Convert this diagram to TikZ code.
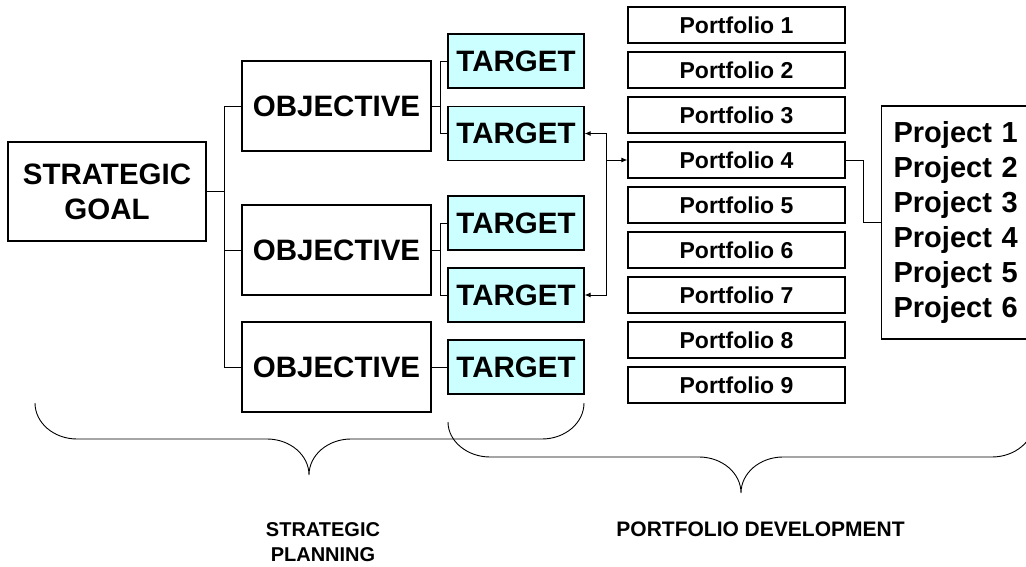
\documentclass[tikz,border=0pt]{standalone}
\usepackage{fontspec}
\setmainfont{Liberation Sans}
\usetikzlibrary{arrows.meta}
\definecolor{tcyan}{HTML}{CCFFFF}
\begin{document}
\begin{tikzpicture}[x=1pt,y=-1pt,
 box/.style={draw, line width=1.2pt, inner sep=0pt, font=\fontsize{29.5}{35}\selectfont\bfseries, align=center},
 goalbox/.style={box, minimum width=198pt, minimum height=99pt},
 objbox/.style={box, minimum width=189pt, minimum height=90pt},
 tgtbox/.style={box, fill=tcyan, minimum width=136pt, minimum height=54pt},
 pfbox/.style={draw, line width=1.2pt, inner sep=0pt, minimum width=217pt, minimum height=36pt, font=\fontsize{23}{28}\selectfont\bfseries},
 conn/.style={line width=0.9pt},
 arr/.style={conn, -{Latex[length=6pt,width=5pt]}},
 brace/.style={line width=0.9pt},
 lbl/.style={inner sep=0pt, align=center}]
\useasboundingbox (0,0) rectangle (1026,567);
\clip (0,0) rectangle (1026,567);
\fill[white] (0,0) rectangle (1026,567);

% nodes
\node[goalbox] (goal) at (107,191.5) {STRATEGIC\\GOAL};
\node[objbox] (o1) at (336.5,106) {OBJECTIVE};
\node[objbox] (o2) at (336.5,250) {OBJECTIVE};
\node[objbox] (o3) at (336.5,367) {OBJECTIVE};
\node[tgtbox] (t1) at (516,61) {TARGET};
\node[tgtbox] (t2) at (516,133.5) {TARGET};
\node[tgtbox] (t3) at (516,223) {TARGET};
\node[tgtbox] (t4) at (516,295) {TARGET};
\node[tgtbox] (t5) at (516,367) {TARGET};
\foreach \i in {1,...,9} {
  \node[pfbox] (p\i) at (736.5,{25+45*(\i-1)}) {Portfolio \i};
}
\node[draw, line width=1.2pt, anchor=west, inner xsep=12pt, inner ysep=0pt,
      text width=135pt, minimum height=233pt, align=left,
      font=\fontsize{29}{35}\selectfont\bfseries] (proj) at (881,222.5)
      {Project 1\\Project 2\\Project 3\\Project 4\\Project 5\\Project 6};

% connectors
\draw[conn] (goal.east) -- +(18,0) coordinate (gj);
\draw[conn] (gj) |- (o1.west);
\draw[conn] (gj) |- (o2.west);
\draw[conn] (gj) |- (o3.west);
\draw[conn] (o1.east) -- +(9,0) coordinate (b1);
\draw[conn] (b1) |- (t1.west);
\draw[conn] (b1) |- (t2.west);
\draw[conn] (o2.east) -- +(9,0) coordinate (b2);
\draw[conn] (b2) |- (t3.west);
\draw[conn] (b2) |- (t4.west);
\draw[conn] (o3.east) -- (t5.west);
\coordinate (aj) at (606,160);
\draw[arr] (aj) |- (t2.east);
\draw[arr] (aj) |- (t4.east);
\draw[arr] (aj) -- (p4.west);
\draw[conn] (p4.east) -- +(18,0) |- (proj.west);

% braces
\draw[brace] (35,403) .. controls (35,423) and (54,439) .. (77,439) -- (267,439)
  .. controls (290,439) and (309,455) .. (309,475)
  .. controls (309,455) and (328,439) .. (351,439) -- (542,439)
  .. controls (565,439) and (584,423) .. (584,403);
\draw[brace] (448,422) .. controls (448,441) and (467,457) .. (490,457) -- (699,457)
  .. controls (722,457) and (741,473) .. (741,493)
  .. controls (741,473) and (760,457) .. (783,457) -- (992,457)
  .. controls (1015,457) and (1034,441) .. (1034,422);

% labels
\node[lbl, anchor=north, font=\fontsize{20}{25}\selectfont\bfseries] (sp) at (323,522) {STRATEGIC\\PLANNING};
\node[lbl, anchor=north, font=\fontsize{21}{25}\selectfont\bfseries] (pd) at (760.5,522) {PORTFOLIO DEVELOPMENT};
\end{tikzpicture}
\end{document}
